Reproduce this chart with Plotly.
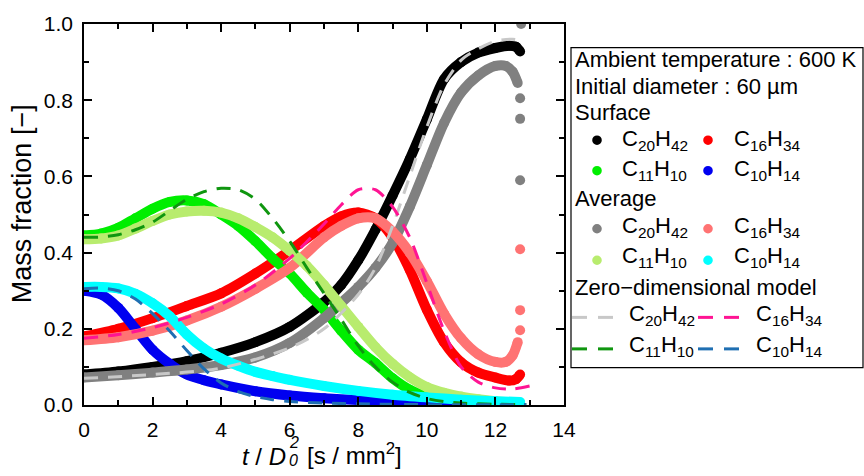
import plotly.graph_objects as go

# ---------------- data ----------------
# Surface mass fractions (symbols)
t_s_c20 = [0, 1, 2, 3, 4, 5, 6, 7, 7.5, 8, 8.5, 9, 9.5, 10, 10.5, 11, 11.5, 12, 12.4, 12.6, 12.72]
v_s_c20 = [0.08, 0.088, 0.10, 0.115, 0.137, 0.165, 0.205, 0.27, 0.315, 0.38, 0.46, 0.55, 0.645, 0.75, 0.855, 0.9, 0.925, 0.937, 0.943, 0.94, 0.928]

t_s_c16 = [0, 1, 2, 3, 4, 5, 6, 7, 7.5, 8, 8.5, 9, 9.5, 10, 10.5, 11, 11.5, 12, 12.4, 12.6, 12.72]
v_s_c16 = [0.18, 0.2, 0.228, 0.26, 0.293, 0.345, 0.405, 0.47, 0.495, 0.505, 0.49, 0.44, 0.355, 0.25, 0.165, 0.112, 0.085, 0.072, 0.064, 0.068, 0.08]

t_s_c11 = [0, 0.5, 1, 1.5, 2, 2.5, 3, 3.5, 4, 4.5, 5, 5.5, 6, 6.5, 7, 7.5, 8, 8.5, 9, 9.5, 10, 10.5, 11, 12, 12.72]
v_s_c11 = [0.445, 0.45, 0.465, 0.49, 0.515, 0.533, 0.537, 0.527, 0.5, 0.47, 0.43, 0.385, 0.345, 0.295, 0.25, 0.195, 0.145, 0.11, 0.07, 0.04, 0.022, 0.012, 0.007, 0.003, 0.002]

t_s_c10 = [0, 0.5, 1, 1.5, 2, 2.5, 3, 3.5, 4, 5, 6, 7, 8, 9, 10, 11, 12, 12.72]
v_s_c10 = [0.30, 0.29, 0.255, 0.2, 0.145, 0.108, 0.08, 0.065, 0.054, 0.036, 0.025, 0.018, 0.013, 0.009, 0.006, 0.004, 0.003, 0.003]

# Volume-averaged mass fractions (symbols)
t_a_c20 = [0, 1, 2, 3, 4, 5, 6, 7, 7.5, 8, 8.5, 9, 9.5, 10, 10.5, 11, 11.5, 12, 12.3, 12.5, 12.65]
v_a_c20 = [0.072, 0.078, 0.085, 0.093, 0.105, 0.125, 0.163, 0.228, 0.268, 0.31, 0.36, 0.425, 0.52, 0.63, 0.74, 0.82, 0.865, 0.89, 0.89, 0.875, 0.845]
t_a_c20_end = [12.72, 12.72, 12.72, 12.75]
v_a_c20_end = [0.805, 0.751, 0.59, 1.0]

t_a_c16 = [0, 1, 2, 3, 4, 5, 6, 7, 7.5, 8, 8.5, 9, 9.5, 10, 10.5, 11, 11.5, 12, 12.3, 12.5, 12.65]
v_a_c16 = [0.17, 0.178, 0.195, 0.222, 0.258, 0.305, 0.36, 0.44, 0.47, 0.49, 0.49, 0.455, 0.4, 0.325, 0.24, 0.175, 0.133, 0.113, 0.113, 0.13, 0.165]
t_a_c16_end = [12.72, 12.72, 12.72]
v_a_c16_end = [0.196, 0.249, 0.409]

t_a_c11 = [0, 0.5, 1, 1.5, 2, 2.5, 3, 3.5, 4, 4.5, 5, 5.5, 6, 6.5, 7, 7.5, 8, 8.5, 9, 9.5, 10, 10.5, 11, 11.5, 12, 12.72]
v_a_c11 = [0.435, 0.437, 0.445, 0.463, 0.483, 0.5, 0.508, 0.51, 0.505, 0.49, 0.467, 0.44, 0.405, 0.365, 0.315, 0.26, 0.205, 0.152, 0.108, 0.073, 0.047, 0.032, 0.022, 0.015, 0.01, 0.006]

t_a_c10 = [0, 0.5, 1, 1.5, 2, 2.5, 3, 3.5, 4, 4.5, 5, 5.5, 6, 7, 8, 9, 10, 11, 12, 12.72]
v_a_c10 = [0.31, 0.31, 0.306, 0.292, 0.267, 0.233, 0.185, 0.148, 0.122, 0.103, 0.087, 0.076, 0.066, 0.05, 0.037, 0.027, 0.02, 0.014, 0.01, 0.008]

# Zero-dimensional model (dashed lines)
t_m_c20 = [0, 2, 4, 6, 7, 8, 8.5, 9, 9.5, 10, 10.5, 11, 11.5, 12, 12.5, 12.85]
v_m_c20 = [0.07, 0.08, 0.097, 0.15, 0.2, 0.29, 0.36, 0.47, 0.6, 0.73, 0.84, 0.905, 0.935, 0.955, 0.96, 0.953]

t_m_c16 = [0, 1, 2, 3, 4, 5, 6, 7, 7.5, 8, 8.5, 9, 9.5, 10, 10.5, 11, 11.5, 12, 12.5, 13.0]
v_m_c16 = [0.175, 0.185, 0.203, 0.23, 0.265, 0.315, 0.385, 0.475, 0.525, 0.565, 0.565, 0.52, 0.44, 0.32, 0.195, 0.1, 0.06, 0.045, 0.042, 0.05]

t_m_c11 = [0, 0.5, 1, 1.5, 2, 2.5, 3, 3.5, 4, 4.5, 5, 5.5, 6, 6.5, 7, 7.5, 8, 8.5, 9, 9.5, 10, 10.5, 11, 12, 12.9]
v_m_c11 = [0.44, 0.441, 0.447, 0.46, 0.48, 0.51, 0.54, 0.56, 0.569, 0.565, 0.54, 0.49, 0.43, 0.36, 0.293, 0.225, 0.155, 0.1, 0.06, 0.033, 0.017, 0.009, 0.005, 0.002, 0.001]

t_m_c10 = [0, 0.5, 1, 1.5, 2, 2.5, 3, 3.5, 4, 4.5, 5, 5.5, 6, 7, 8, 10, 12.9]
v_m_c10 = [0.305, 0.307, 0.3, 0.278, 0.24, 0.194, 0.143, 0.095, 0.058, 0.035, 0.022, 0.014, 0.009, 0.005, 0.003, 0.001, 0.001]

x_range = [0, 14]
y_range = [0.0, 1.0]
x_ticks = [0, 2, 4, 6, 8, 10, 12, 14]
y_ticks = [0.0, 0.2, 0.4, 0.6, 0.8, 1.0]

species_labels = ["C<sub>20</sub>H<sub>42</sub>", "C<sub>16</sub>H<sub>34</sub>",
                  "C<sub>11</sub>H<sub>10</sub>", "C<sub>10</sub>H<sub>14</sub>"]

# ---------------- styles ----------------
FONT = "Liberation Sans, Arial, sans-serif"
c_surf = ["#000000", "#ff0000", "#00ee00", "#0000f0"]
c_avg = ["#808080", "#ff7373", "#b8ec6e", "#00ffff"]
c_mod = ["#c8c8c8", "#ff1493", "#0f960f", "#1f6fb2"]
BAND = 10
DASH = "14px,10px"

W, H = 864, 476
L, R, T, B = 84, 564, 18, 405

fig = go.Figure()

def band(t, v, color):
    fig.add_trace(go.Scatter(x=t, y=v, mode="lines+markers",
                             line=dict(color=color, width=BAND, shape="spline", smoothing=0.8),
                             marker=dict(color=color, size=BAND),
                             showlegend=False, hoverinfo="skip"))

def dots(t, v, color):
    fig.add_trace(go.Scatter(x=t, y=v, mode="markers",
                             marker=dict(color=color, size=BAND),
                             showlegend=False, hoverinfo="skip"))

def dashed(t, v, color):
    fig.add_trace(go.Scatter(x=t, y=v, mode="lines",
                             line=dict(color=color, width=3, dash=DASH, shape="spline", smoothing=0.8),
                             showlegend=False, hoverinfo="skip"))

for (t, v), c in zip([(t_s_c20, v_s_c20), (t_s_c16, v_s_c16), (t_s_c11, v_s_c11), (t_s_c10, v_s_c10)], c_surf):
    band(t, v, c)
for (t, v), c in zip([(t_a_c20, v_a_c20), (t_a_c16, v_a_c16), (t_a_c11, v_a_c11), (t_a_c10, v_a_c10)], c_avg):
    band(t, v, c)
dots(t_a_c20_end, v_a_c20_end, c_avg[0])
dots(t_a_c16_end, v_a_c16_end, c_avg[1])
for (t, v), c in zip([(t_m_c20, v_m_c20), (t_m_c16, v_m_c16), (t_m_c11, v_m_c11), (t_m_c10, v_m_c10)], c_mod):
    dashed(t, v, c)

# ---------------- helpers ----------------
def px(x):
    return (x - L) / (R - L)

def py(y):
    return (B - y) / (B - T)

shapes = []
annotations = []

# ---------------- manual legend ----------------
shapes.append(dict(type="rect", xref="paper", yref="paper", x0=px(571), x1=px(863), y0=py(367), y1=py(42),
                   line=dict(color="black", width=1.2), fillcolor="white", layer="above"))

def text(x, y, s, size=22, anchor="left", angle=0, italic=False):
    annotations.append(dict(xref="paper", yref="paper", x=px(x), y=py(y), text=s, showarrow=False,
                            xanchor=anchor, yanchor="middle", textangle=angle,
                            font=dict(family=FONT, size=size, color="black",
                                      style="italic" if italic else "normal")))

def dot(x, y, color):
    r = 4.8
    shapes.append(dict(type="circle", xref="paper", yref="paper", x0=px(x - r), x1=px(x + r),
                       y0=py(y + r), y1=py(y - r), fillcolor=color, line=dict(width=0), layer="above"))

def dash_glyph(x0, y, color):
    for a in (0, 26):
        shapes.append(dict(type="line", xref="paper", yref="paper", x0=px(x0 + a), x1=px(x0 + a + 15),
                           y0=py(y), y1=py(y), line=dict(color=color, width=3), layer="above"))

text(573, 54, "Ambient temperature : 600 K")
text(573, 81, "Initial diameter : 60 µm")
text(573, 108, "Surface")
rows_s = [(136, 136), (166, 167)]
for i, (ty, dy) in enumerate(rows_s):
    for j in range(2):
        k = 2 * i + j
        dot([597, 708][j], dy, c_surf[k])
        text([620, 732][j], ty, species_labels[k])
text(573, 195, "Average")
rows_a = [(224, 226), (255, 258)]
for i, (ty, dy) in enumerate(rows_a):
    for j in range(2):
        k = 2 * i + j
        dot([597, 708][j], dy, c_avg[k])
        text([620, 732][j], ty, species_labels[k])
text(573, 286, "Zero−dimensional model")
rows_m = [(314, 316), (345, 348)]
for i, (ty, dy) in enumerate(rows_m):
    for j in range(2):
        k = 2 * i + j
        dash_glyph([572, 698][j], dy, c_mod[k])
        text([627, 754][j], ty, species_labels[k])

# ---------------- axis titles ----------------
text(22, 201, "Mass fraction [−]", size=27, anchor="center", angle=-90)
text(288, 457, "<i>t</i> / <i>D</i>", size=24, anchor="right")
text(287, 443, "2", size=16, italic=True)
text(287, 461, "0", size=16, italic=True)
text(305, 455, "[s / mm<sup>2</sup>]", size=24)

axis_common = dict(showline=True, linecolor="black", linewidth=1.5, mirror="allticks",
                   ticks="inside", ticklen=8, tickwidth=1.6, tickcolor="black",
                   showgrid=False, zeroline=False, layer="above traces",
                   tickfont=dict(family=FONT, size=21, color="black"))

fig.update_layout(
    width=W, height=H,
    margin=dict(l=L, r=W - R, t=T, b=H - B),
    paper_bgcolor="white", plot_bgcolor="white",
    shapes=shapes, annotations=annotations,
    xaxis=dict(range=x_range, tickmode="array", tickvals=x_ticks, ticklabelstandoff=5,
               minor=dict(ticks="inside", ticklen=5, tickwidth=1.6, tickcolor="black", dtick=1, showgrid=False),
               **axis_common),
    yaxis=dict(range=y_range, tickmode="array", tickvals=y_ticks, tickformat=".1f", ticklabelstandoff=5,
               minor=dict(ticks="inside", ticklen=5, tickwidth=1.6, tickcolor="black", dtick=0.1, showgrid=False),
               **axis_common),
)

fig.write_html("out.html")
